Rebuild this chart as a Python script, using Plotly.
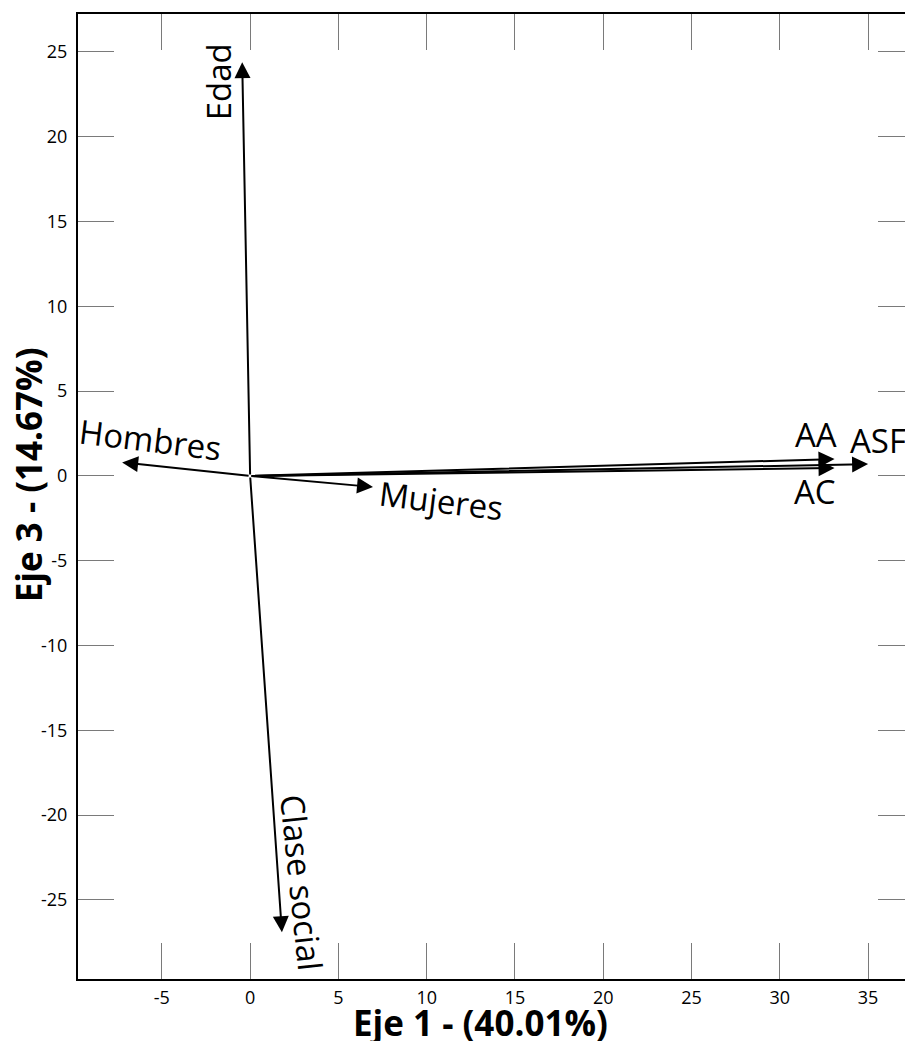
import plotly.graph_objects as go

# ---- data ----
variables = ["Edad", "Clase social", "Hombres", "Mujeres", "AA", "AC", "ASF"]
eje1 = [-0.45, 1.8, -7.25, 6.96, 33.1, 33.1, 35.0]
eje3 = [24.4, -26.9, 0.8, -0.65, 1.0, 0.47, 0.7]
x_ticks = [-5, 0, 5, 10, 15, 20, 25, 30, 35]
x_tick_labels = ["-5", "0", "5", "10", "15", "20", "25", "30", "35"]
y_ticks = [-25, -20, -15, -10, -5, 0, 5, 10, 15, 20, 25]
y_tick_labels = ["-25", "-20", "-15", "-10", "-5", "0", "5", "10", "15", "20", "25"]
x_title = "Eje 1 - (40.01%)"
y_title = "Eje 3 - (14.67%)"

# ---- styling ----
FONT = "Open Sans, Noto Sans, DejaVu Sans, sans-serif"
# label placement relative to arrow tip: (xshift px, yshift px, textangle)
label_style = {
    "Edad": (-24, -20, -90),
    "Clase social": (20, 49, 84),
    "Hombres": (28, 23, 7),
    "Mujeres": (68, -13, 7),
    "AA": (-19, 25, 0),
    "AC": (-20, -23, 0),
    "ASF": (10, 24, 0),
}

fig = go.Figure()
fig.add_trace(go.Scatter(x=eje1, y=eje3, mode="markers",
                         marker=dict(size=1, color="rgba(0,0,0,0)"),
                         hoverinfo="skip", showlegend=False))
fig.add_trace(go.Scatter(x=eje1, y=eje3, mode="markers", yaxis="y2",
                         marker=dict(size=1, color="rgba(0,0,0,0)"),
                         hoverinfo="skip", showlegend=False))

annotations = []
for name, xv, yv in zip(variables, eje1, eje3):
    annotations.append(dict(
        x=xv, y=yv, ax=0, ay=0, xref="x", yref="y", axref="x", ayref="y",
        text="", showarrow=True, arrowhead=2, arrowsize=1.6, arrowwidth=2,
        arrowcolor="black", standoff=0))
    xs, ys, ang = label_style[name]
    annotations.append(dict(
        x=xv, y=yv, xref="x", yref="y", text=name, showarrow=False,
        xshift=xs, yshift=ys, textangle=ang,
        font=dict(family=FONT, size=33, color="black")))

# plot area spans 78..914 px (right edge falls just past the 905 px window)
annotations.append(dict(
    x=0.482, y=-0.0446, xref="paper", yref="paper", text="<b>%s</b>" % x_title,
    showarrow=False, xanchor="center", yanchor="middle",
    font=dict(family=FONT, size=35, color="black")))
annotations.append(dict(
    x=-0.0598, y=0.522, xref="paper", yref="paper", text="<b>%s</b>" % y_title,
    showarrow=False, xanchor="center", yanchor="middle", textangle=-90,
    font=dict(family=FONT, size=35, color="black")))

tick_color = "#7a7a7a"
fig.update_layout(
    width=914, height=1041,
    margin=dict(l=78, r=0, t=14, b=62),
    paper_bgcolor="white", plot_bgcolor="white",
    showlegend=False,
    annotations=annotations,
    xaxis=dict(range=[-9.75, 37.6], tickvals=x_ticks, ticktext=x_tick_labels,
               ticks="inside", ticklen=36, tickwidth=1, tickcolor=tick_color,
               showline=True, linecolor="black", linewidth=2, mirror="ticks",
               showgrid=False, zeroline=False, ticklabelstandoff=1,
               tickfont=dict(family=FONT, size=18, color="black")),
    yaxis=dict(range=[-29.66, 27.24], tickvals=y_ticks, ticktext=y_tick_labels,
               ticks="inside", ticklen=36, tickwidth=1, tickcolor=tick_color,
               showline=True, linecolor="black", linewidth=2, mirror=False,
               showgrid=False, zeroline=False, ticklabelstandoff=5,
               tickfont=dict(family=FONT, size=18, color="black")),
    yaxis2=dict(range=[-29.66, 27.24], tickvals=y_ticks, ticks="inside",
                ticklen=36, tickwidth=1, tickcolor=tick_color,
                overlaying="y", side="right", showline=False,
                showticklabels=False, showgrid=False, zeroline=False),
)

fig.write_html("out.html", config={"displayModeBar": False},
               post_script="document.body.style.margin='0';document.body.style.overflow='hidden';")
